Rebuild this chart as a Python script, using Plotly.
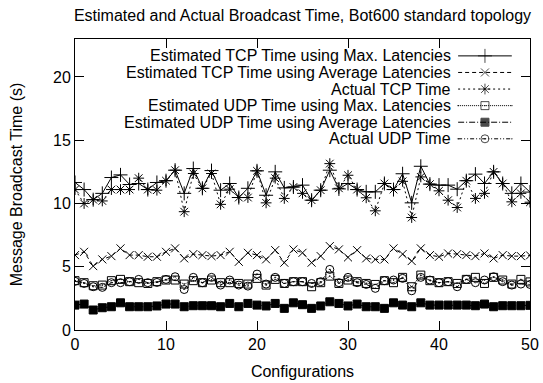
import plotly.graph_objects as go

configs = list(range(51))

tcp_est_max = [11.66, 11.1, 10.3, 10.8, 12.05, 12.26, 11.5, 11.58, 11.1, 11.66,
               11.8, 12.63, 10.8, 12.76, 11.2, 12.6, 11.05, 11.58, 10.47, 11.2,
               12.58, 10.65, 12.5, 11.23, 11.3, 11.45, 10.26, 11.05, 12.63, 11.15,
               11.58, 11.1, 10.92, 10.92, 11.58, 11.1, 12.35, 10.05, 12.94, 11.53,
               11.45, 11.45, 11.13, 11.8, 12.32, 11.58, 12.5, 11.58, 10.8, 11.58,
               10.9]
tcp_est_avg = [5.92, 6.18, 5.05, 5.58, 5.84, 6.45, 5.92, 5.92, 5.79, 5.79,
               6.18, 6.45, 5.66, 6.0, 5.92, 5.84, 5.92, 6.18, 5.39, 6.1,
               5.92, 5.58, 6.31, 5.32, 6.37, 6.1, 5.32, 5.84, 6.63, 6.37,
               5.74, 6.31, 5.66, 5.58, 5.58, 6.45, 6.0, 5.45, 6.45, 5.92,
               5.79, 6.05, 6.0, 5.92, 5.84, 6.05, 5.66, 5.92, 5.84, 5.84,
               5.9]
tcp_actual = [11.1, 10.0, 10.3, 10.2, 11.1, 11.1, 11.1, 12.0, 11.1, 11.05,
              11.8, 12.63, 9.35, 12.37, 11.2, 12.37, 9.93, 11.13, 10.47, 10.47,
              12.58, 10.05, 12.0, 10.4, 11.3, 10.8, 10.26, 11.05, 13.15, 11.2,
              12.23, 11.1, 10.45, 9.42, 11.58, 11.1, 11.75, 8.89, 12.1, 11.53,
              11.0, 10.26, 9.68, 11.8, 10.4, 10.8, 12.5, 11.58, 10.13, 10.8,
              10.1]
udp_est_max = [3.9, 3.74, 3.5, 3.55, 3.9, 4.0, 3.82, 3.74, 3.68, 3.82,
               3.95, 3.95, 3.63, 3.9, 3.74, 3.95, 3.74, 3.74, 3.68, 3.63,
               4.08, 3.55, 4.0, 3.68, 3.82, 3.82, 3.42, 3.74, 4.26, 3.68,
               3.95, 3.82, 3.68, 3.6, 3.9, 3.74, 4.16, 3.42, 4.34, 3.9,
               3.74, 3.82, 3.68, 4.0, 4.16, 3.68, 4.16, 3.95, 3.63, 4.0,
               3.8]
udp_est_avg = [1.97, 2.05, 1.58, 1.76, 1.84, 2.15, 1.84, 1.84, 1.84, 1.9,
               2.05, 2.05, 1.84, 1.92, 1.92, 1.92, 1.84, 2.1, 1.84, 2.1,
               1.97, 1.9, 2.1, 1.71, 2.15, 2.0, 1.71, 1.9, 2.23, 2.1,
               1.9, 2.05, 1.84, 1.84, 1.71, 2.15, 1.97, 1.84, 2.15, 1.97,
               1.97, 1.97, 1.97, 1.97, 1.92, 2.05, 1.84, 1.92, 1.92, 1.92,
               1.95]
udp_actual = [3.85, 3.68, 3.42, 3.37, 3.74, 3.74, 3.82, 4.0, 3.74, 3.76,
              4.0, 4.21, 3.2, 4.16, 3.74, 4.16, 3.55, 3.95, 3.55, 3.47,
              4.42, 3.63, 4.16, 3.68, 3.82, 3.82, 3.68, 3.82, 4.79, 3.74,
              4.16, 3.74, 3.6, 3.29, 3.9, 3.95, 4.08, 3.1, 4.16, 3.95,
              3.74, 3.82, 3.42, 4.0, 3.74, 3.95, 4.21, 3.82, 3.55, 3.63,
              3.6]

series_names = [
    "Estimated TCP Time using Max. Latencies",
    "Estimated TCP Time using Average Latencies",
    "Actual TCP Time",
    "Estimated UDP Time using Max. Latencies",
    "Estimated UDP Time using Average Latencies",
    "Actual UDP Time",
]
series_values = [tcp_est_max, tcp_est_avg, tcp_actual, udp_est_max, udp_est_avg, udp_actual]
styles = [
    dict(dash="solid", symbol="cross-thin-open", size=10),
    dict(dash="4px,3px", symbol="x-thin-open", size=8),
    dict(dash="2px,3px", symbol="asterisk-open", size=9),
    dict(dash="1px,1px", symbol="square-open-dot", size=8),
    dict(dash="6px,2px,1px,2px", symbol="square", size=8),
    dict(dash="4px,2px,1px,2px,1px,2px", symbol="circle-open-dot", size=8),
]

FONT = "Liberation Sans, Arial, Helvetica, sans-serif"
FS = 16
fig = go.Figure()

for name, vals, st in zip(series_names, series_values, styles):
    fig.add_trace(go.Scatter(
        x=configs, y=vals, mode="lines+markers", name=name, showlegend=False,
        line=dict(color="black", width=1, dash=st["dash"]),
        marker=dict(symbol=st["symbol"], size=st["size"], color="black",
                    line=dict(color="black", width=1)),
    ))

# custom gnuplot-style key (text right-aligned, sample on the right)
key_rows = [0.942, 0.885, 0.828, 0.771, 0.714, 0.657]
for name, st, ry in zip(series_names, styles, key_rows):
    fig.add_trace(go.Scatter(
        x=[0.842, 0.901, 0.960], y=[ry, ry, ry], xaxis="x2", yaxis="y2",
        mode="lines+markers", showlegend=False, hoverinfo="skip",
        line=dict(color="black", width=1, dash=st["dash"]),
        marker=dict(symbol=st["symbol"], size=[0, st["size"], 0], color="black",
                    line=dict(color="black", width=1)),
    ))
    fig.add_annotation(x=0.831, y=ry, xref="paper", yref="paper", text=name,
                       showarrow=False, xanchor="right", yanchor="middle",
                       font=dict(family=FONT, size=FS, color="black"))

axis_font = dict(family=FONT, size=FS, color="black")
fig.update_layout(
    width=543, height=383,
    margin=dict(l=75, r=13, t=39, b=53),
    paper_bgcolor="white", plot_bgcolor="white",
    font=dict(family=FONT, size=FS, color="black"),
    title=dict(text="Estimated and Actual Broadcast Time, Bot600 standard topology",
               x=0.5, xref="paper", y=1 - 15 / 383, yanchor="middle",
               font=dict(family=FONT, size=FS, color="black")),
    xaxis=dict(range=[0, 50], tickvals=[0, 10, 20, 30, 40, 50],
               ticks="inside", ticklen=9, tickcolor="black", tickfont=axis_font,
               showline=True, linecolor="black", linewidth=1, mirror="ticks",
               showgrid=False, zeroline=False, automargin=False,
               title=dict(text="Configurations", standoff=13, font=axis_font)),
    yaxis=dict(range=[0, 23], tickvals=[0, 5, 10, 15, 20],
               ticks="inside", ticklen=9, tickcolor="black", tickfont=axis_font,
               showline=True, linecolor="black", linewidth=1, mirror="ticks",
               showgrid=False, zeroline=False, automargin=False,
               title=dict(text="Message Broadcast Time (s)", standoff=26, font=axis_font)),
    xaxis2=dict(range=[0, 1], overlaying="x", visible=False, fixedrange=True),
    yaxis2=dict(range=[0, 1], overlaying="y", visible=False, fixedrange=True),
)

fig.write_html("out.html", config={"displayModeBar": False},
               post_script="document.body.style.margin='0';")
